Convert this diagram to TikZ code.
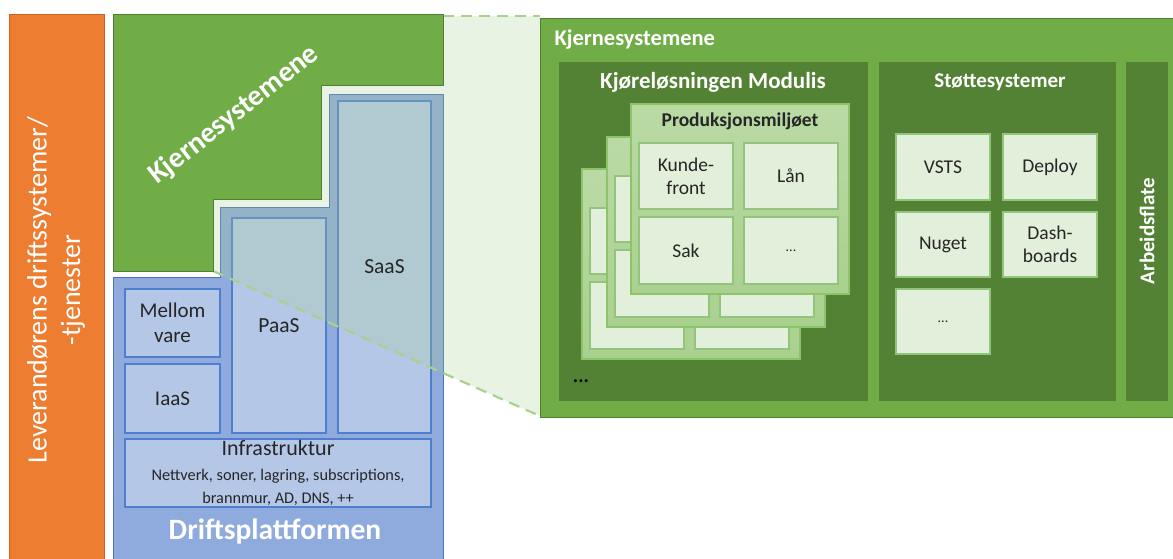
\documentclass[tikz,border=0pt]{standalone}
\usepackage{fontspec}
\setmainfont{Carlito}
\definecolor{orangeA}{HTML}{ED7D31}
\definecolor{orangeB}{HTML}{C9651E}
\definecolor{greenA}{HTML}{70AD47}
\definecolor{greenB}{HTML}{507E32}
\definecolor{greenD}{HTML}{548235}
\definecolor{cardF}{HTML}{A9D18E}
\definecolor{cardB}{HTML}{8EC36C}
\definecolor{boxF}{HTML}{E2EFDA}
\definecolor{boxB}{HTML}{93C47D}
\definecolor{blueO}{HTML}{8FAADC}
\definecolor{blueOB}{HTML}{4A72B8}
\definecolor{blueI}{HTML}{B4C7E7}
\definecolor{blueIB}{HTML}{4F7FCC}
\definecolor{dashG}{HTML}{A9D18E}
\definecolor{txt}{HTML}{262626}
\newcommand{\fs}[1]{\fontsize{#1pt}{1.2\dimexpr #1pt\relax}\selectfont}
\newcommand{\bx}[7]{\node[#1, anchor=north west, minimum width={(#5)*1pt-(#3)*1pt}, minimum height={(#6)*1pt-(#4)*1pt}] (#2) at (#3,#4) {#7};}
\tikzset{
  base/.style={inner sep=0pt, outer sep=0pt},
  bluebox/.style={base, fill=blueI, draw=blueIB, line width=1.2pt, text=txt, align=center, font=\fs{21}},
  bluetext/.style={text=txt, align=center, font=\fs{21.5}},
  cardbox/.style={base, top color=cardF!80!white, bottom color=cardF, draw=cardB, line width=1.2pt},
  lightbox/.style={base, fill=boxF, draw=boxB, line width=1.2pt, text=txt, align=center, font=\fs{19.5}},
  panel/.style={base, fill=greenD},
  whitebold/.style={text=white, font=\bfseries\fs{21}},
  conn/.style={draw=dashG, line width=2.2pt, dash pattern=on 11pt off 7pt},
}
\begin{document}
\begin{tikzpicture}[x=1pt, y=-1pt]
\useasboundingbox (0,0) rectangle (1173,558);
% orange bar
\bx{base, fill=orangeA, draw=orangeB, line width=0.8pt}{lev}{9}{14}{104}{560}{}
\node[text=white, rotate=90, align=center, font=\fs{28}] (levt) at (56,290) {Leverandørens driftssystemer/\\-tjenester};
% blue platform
\draw[fill=blueO, draw=blueOB, line width=1pt] (113,560) -- (113,277) -- (220,277) -- (220,207) -- (329,207) -- (329,94) -- (443,94) -- (443,560);
\bx{bluebox}{mellom}{125}{289}{220}{357}{Mellom\\vare}
\bx{bluebox}{iaas}{125}{364}{220}{433}{IaaS}
\bx{bluebox}{paas}{232}{218}{326}{433}{}
\bx{bluebox}{saas}{338}{101}{431}{433}{}
\bx{bluebox}{infra}{125}{439}{431}{507}{{\fs{22}Infrastruktur}\\[-1pt]{\fs{16.3}Nettverk, soner, lagring, subscriptions,}\\[-2pt]{\fs{16.3}brannmur, AD, DNS, ++}}
\node[text=white, font=\bfseries\fs{29.5}] (drift) at (275,531) {Driftsplattformen};
% zoom overlay and dashed connectors
\coordinate (lt) at (443,16);
\coordinate (rt) at (540,16);
\coordinate (lb) at (213,271);
\coordinate (rb) at (540,416);
\fill[dashG, opacity=0.25] (lt) -- (rt) -- (rb) -- (lb) -- (213,199) -- (321,199) -- (321,85) -- (443,85) -- cycle;
\node[bluetext] (paast) at (paas) {PaaS};
\node[bluetext] (saast) at (saas) {SaaS};
\draw[conn] (lt) -- (rt);
\draw[conn] (lb) -- (rb);
% green L shape
\draw[fill=greenA, draw=greenB, line width=0.8pt] (113,14) -- (443,14) -- (443,85) -- (321,85) -- (321,199) -- (213,199) -- (213,271) -- (113,271) -- cycle;
\node[text=white, rotate=38, font=\bfseries\fs{29}] (kjl) at (234,115) {Kjernesystemene};
% big green box
\bx{base, fill=greenA, draw=greenB, line width=1pt}{big}{540}{18}{1180}{417}{}
\node[whitebold, anchor=west, font=\bfseries\fs{22.5}] (bigt) at (551,40) {Kjernesystemene};
\bx{panel}{kjor}{559}{62}{868}{401}{}
\bx{panel}{stot}{879}{62}{1116}{401}{}
\bx{panel}{arb}{1126}{62}{1168}{401}{}
\node[whitebold, font=\bfseries\fs{23}] (kjort) at (713,82) {Kjøreløsningen Modulis};
\node[whitebold] (stott) at (1000,82) {Støttesystemer};
\node[whitebold, rotate=90] (arbt) at (1147,231) {Arbeidsflate};
\node[text=black, font=\bfseries\fs{20}] (dots) at (581,381) {...};
% stacked cards (back to front)
\foreach \n/\x/\y in {c/582/169, b/607/137}{
  \bx{cardbox}{card\n}{\x}{\y}{\x+218}{\y+190}{}
  \bx{lightbox}{\n1}{\x+8}{\y+39}{\x+102}{\y+105}{}
  \bx{lightbox}{\n2}{\x+113}{\y+39}{\x+207}{\y+105}{}
  \bx{lightbox}{\n3}{\x+8}{\y+113}{\x+102}{\y+180}{}
  \bx{lightbox}{\n4}{\x+113}{\y+113}{\x+207}{\y+180}{}
}
\bx{cardbox}{carda}{631}{104}{849}{294}{}
\node[text=txt, font=\bfseries\fs{19.5}] (prodt) at (740,121) {Produksjonsmiljøet};
\bx{lightbox}{kunde}{639}{143}{733}{209}{Kunde-\\front}
\bx{lightbox}{laan}{744}{143}{838}{209}{Lån}
\bx{lightbox}{sak}{639}{217}{733}{284}{Sak}
\bx{lightbox}{more}{744}{217}{838}{284}{\fs{14}...}
% support systems
\bx{lightbox}{vsts}{896}{134}{990}{200}{VSTS}
\bx{lightbox}{deploy}{1003}{134}{1097}{200}{Deploy}
\bx{lightbox}{nuget}{896}{212}{990}{277}{Nuget}
\bx{lightbox}{dash}{1003}{212}{1097}{277}{Dash-\\boards}
\bx{lightbox}{smore}{896}{289}{990}{354}{\fs{14}...}
\end{tikzpicture}
\end{document}
